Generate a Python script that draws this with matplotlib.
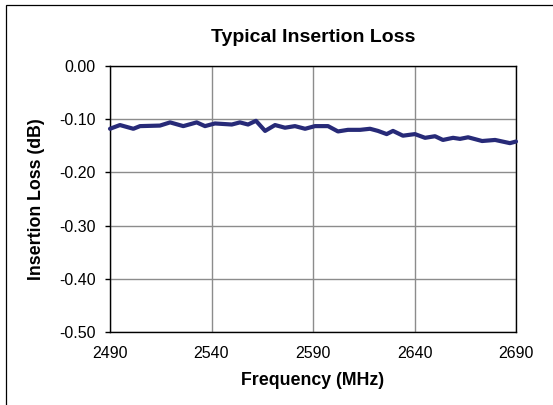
import matplotlib
matplotlib.use("Agg")
import matplotlib.pyplot as plt
from matplotlib.patches import Rectangle

plt.rcParams['font.family'] = ['Liberation Sans', 'DejaVu Sans']

freq_mhz = [2490.0, 2494.9, 2501.5, 2504.8, 2514.6, 2519.6, 2526.1, 2532.7, 2536.8,
            2541.7, 2550.0, 2554.0, 2558.0, 2561.9, 2566.4, 2571.3, 2576.2, 2581.1,
            2586.1, 2591.0, 2597.4, 2602.3, 2607.2, 2613.2, 2618.1, 2622.0, 2626.3,
            2629.4, 2634.3, 2640.2, 2645.2, 2650.1, 2654.0, 2659.0, 2662.4, 2666.4,
            2673.3, 2679.7, 2687.0, 2690.0]
loss_db = [-0.118, -0.111, -0.118, -0.113, -0.112, -0.106, -0.113, -0.106, -0.113,
           -0.108, -0.110, -0.106, -0.110, -0.103, -0.122, -0.111, -0.116, -0.113,
           -0.118, -0.113, -0.113, -0.123, -0.120, -0.120, -0.118, -0.122, -0.128,
           -0.122, -0.131, -0.128, -0.135, -0.132, -0.139, -0.135, -0.137, -0.134,
           -0.141, -0.139, -0.145, -0.142]

x_ticks = [2490, 2540, 2590, 2640, 2690]
y_ticks = [0.0, -0.1, -0.2, -0.3, -0.4, -0.5]
y_tick_labels = ["0.00", "-0.10", "-0.20", "-0.30", "-0.40", "-0.50"]

W, H = 553, 405
fig = plt.figure(figsize=(W / 100, H / 100), dpi=100)
fig.patch.set_facecolor('white')

# outer chart border (only left/top visible in reference)
fig.patches.append(Rectangle((6 / W, -0.5), 2.0, 1.5 - 5 / H, transform=fig.transFigure,
                             fill=False, edgecolor='black', linewidth=0.9))

ax = fig.add_axes([110 / W, 1 - 332 / H, 406 / W, 266 / H])
ax.plot(freq_mhz, loss_db, color='#272a78', linewidth=3.0, solid_joinstyle='round',
        solid_capstyle='round', zorder=3, clip_on=False)

ax.set_xlim(2490, 2690)
ax.set_ylim(-0.5, 0.0)
ax.set_xticks(x_ticks)
ax.set_xticklabels([str(v) for v in x_ticks])
ax.set_yticks(y_ticks)
ax.set_yticklabels(y_tick_labels)
ax.grid(True, color='#8c8c8c', linewidth=1.0)
ax.set_axisbelow(True)
for s in ax.spines.values():
    s.set_color('black')
    s.set_linewidth(1.0)

ax.tick_params(axis='x', length=0, pad=10, labelsize=11.5, colors='black')
ax.tick_params(axis='y', length=3.6, width=1.0, pad=6.5, labelsize=11.5, colors='black')

ax.set_xlabel('Frequency (MHz)', fontsize=12.8, fontweight='bold', labelpad=8)
ax.set_ylabel('Insertion Loss (dB)', fontsize=12.8, fontweight='bold', labelpad=10)
fig.text(313 / W, 1 - 37 / H, 'Typical Insertion Loss', ha='center', va='center',
         fontsize=14, fontweight='bold')

fig.savefig('out.png', dpi=100)
